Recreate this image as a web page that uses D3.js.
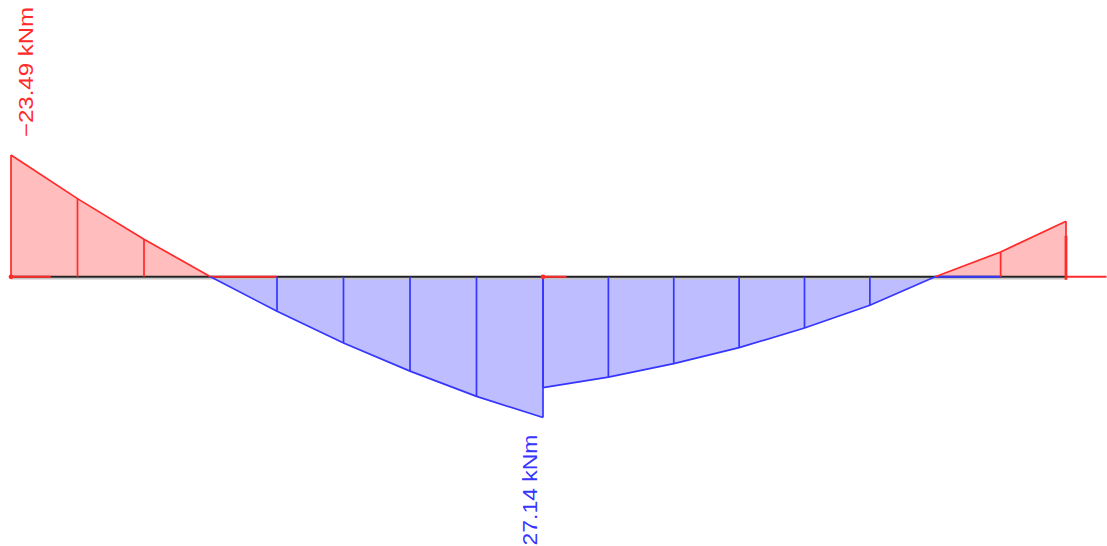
<!DOCTYPE html>
<html>
<head>
<meta charset="utf-8">
<script src="https://cdn.jsdelivr.net/npm/d3@7"></script>
<style>
  html, body { margin: 0; padding: 0; background: #fff; }
  svg { display: block; }
</style>
</head>
<body>
<svg id="chart" width="1107" height="546"></svg>
<script>
// bending moment values (kNm) at the stations of each span, positions in m
var span1X = [0, 0.5, 1, 1.5, 2, 2.5, 3, 3.5, 4];
var span1M = [-23.49, -15.08, -7.25, 0, 6.66, 12.78, 18.19, 23.07, 27.14];
var span2X = [4, 4.5, 5, 5.5, 6, 6.5, 7, 7.5, 8];
var span2M = [21.39, 19.34, 16.76, 13.67, 9.88, 5.50, 0, -4.79, -10.71];
var labels = [
  {x: 0, m: -23.49, text: "\u221223.49 kNm"},
  {x: 4, m: 27.14, text: "27.14 kNm"}
];

var svg = d3.select("#chart");
var red = "#ff2a2a", blue = "#3535ff";
var redFill = "rgba(255,0,0,0.26)", blueFill = "rgba(0,0,255,0.26)";

var x = d3.scaleLinear().domain([0, 4, 8]).range([11, 543, 1066]);
var y = d3.scaleLinear().domain([-23.49, 27.14]).range([155, 417.5]); // sagging drawn downwards

var spans = [span1X.map((d, i) => ({x: d, m: span1M[i]})),
             span2X.map((d, i) => ({x: d, m: span2M[i]}))];

// split a span into pieces of one sign
function pieces(pts) {
  var out = [], cur = [pts[0]];
  for (var i = 1; i < pts.length; i++) {
    var a = pts[i - 1], b = pts[i];
    if (a.m * b.m < 0) {
      var t = a.m / (a.m - b.m), z = {x: a.x + t * (b.x - a.x), m: 0};
      cur.push(z); out.push(cur); cur = [z];
    }
    cur.push(b);
    if (b.m === 0 && i < pts.length - 1) { out.push(cur); cur = [b]; }
  }
  out.push(cur);
  return out.filter(p => p.length > 1);
}
function signOf(p) { return d3.sum(p, d => d.m) < 0 ? -1 : 1; }

var area = d3.area().x(d => x(d.x)).y0(y(0)).y1(d => y(d.m));
var line = d3.line().x(d => x(d.x)).y(d => y(d.m));

spans.forEach(function(pts) {
  pieces(pts).forEach(function(p) {
    var s = signOf(p);
    svg.append("path").attr("d", area(p)).attr("fill", s < 0 ? redFill : blueFill);
  });
});

// baseline
svg.append("line").attr("x1", x(0)).attr("x2", x(8)).attr("y1", y(0) + 2).attr("y2", y(0) + 2)
  .attr("stroke", "#c4c4c4").attr("stroke-width", 1.6);
svg.append("line").attr("x1", x(0)).attr("x2", x(8)).attr("y1", y(0)).attr("y2", y(0))
  .attr("stroke", "#222").attr("stroke-width", 2);

// coloured bits along the beam axis
[[0, 0.3, red], [1.5, 2, red], [4, 4.18, red], [7, 7.5, blue], [8, 8.31, red]].forEach(function(s) {
  svg.append("line").attr("x1", x(s[0])).attr("x2", x(s[1]))
    .attr("y1", y(0)).attr("y2", y(0)).attr("stroke", s[2]).attr("stroke-width", 2);
});

// outline and ordinates
spans.forEach(function(pts) {
  pieces(pts).forEach(function(p) {
    var c = signOf(p) < 0 ? red : blue;
    svg.append("path").attr("d", line(p)).attr("fill", "none")
      .attr("stroke", c).attr("stroke-width", 1.7);
    p.forEach(function(d) {
      if (d.m === 0) return;
      svg.append("line").attr("x1", x(d.x)).attr("x2", x(d.x))
        .attr("y1", y(0)).attr("y2", y(d.m)).attr("stroke", c).attr("stroke-width", 1.7);
    });
  });
});

// end marks
svg.append("line").attr("x1", x(8)).attr("x2", x(8)).attr("y1", y(0) - 41).attr("y2", y(0) + 3)
  .attr("stroke", red).attr("stroke-width", 2.8);
[0, 4].forEach(function(p) {
  svg.append("circle").attr("cx", x(p)).attr("cy", y(0)).attr("r", 2.4).attr("fill", red);
});

// value labels
labels.forEach(function(l) {
  var neg = l.m < 0;
  var tx = neg ? x(l.x) + 22 : x(l.x) - 6;
  var ty = neg ? y(l.m) - 18 : y(l.m) + 128;
  svg.append("text")
    .attr("transform", "translate(" + tx + "," + ty + ") rotate(-90)")
    .attr("font-family", "Liberation Sans, Arial, sans-serif")
    .attr("font-size", 20)
    .attr("fill", neg ? red : blue)
    .attr("textLength", neg ? 130 : 111)
    .attr("lengthAdjust", "spacingAndGlyphs")
    .text(l.text);
});
</script>
</body>
</html>
